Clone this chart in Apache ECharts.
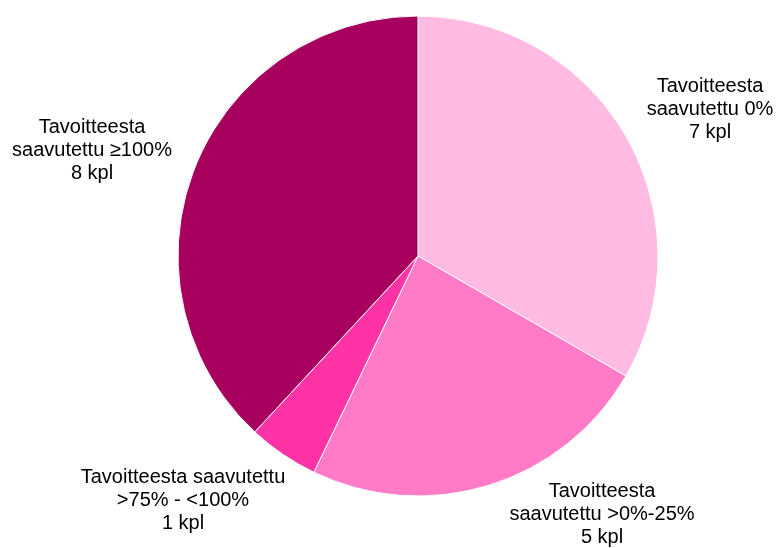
<!DOCTYPE html>
<html>
<head>
<meta charset="utf-8">
<script src="https://cdn.jsdelivr.net/npm/echarts@6/dist/echarts.min.js"></script>
<style>
  html, body { margin: 0; padding: 0; background: #fff; }
  #chart { width: 777px; height: 548px; }
</style>
</head>
<body>
<div id="chart"></div>
<script>
var names = [
  'Tavoitteesta\nsaavutettu 0%',
  'Tavoitteesta\nsaavutettu >0%-25%',
  'Tavoitteesta saavutettu\n>75% - <100%',
  'Tavoitteesta\nsaavutettu ≥100%'
];
var counts = [7, 5, 1, 8];
var colors = ['#FFBBE1', '#FF7BC7', '#FF33A5', '#A8005E'];
// label centres (x, y) like the original best-fit placement
var labelPos = [[710, 109], [602, 514], [183, 500], [92, 150]];

var chart = echarts.init(document.getElementById('chart'));
chart.setOption({
  animation: false,
  series: [{
    type: 'pie',
    center: [418, 256],
    radius: 240,
    startAngle: 90,
    clockwise: true,
    data: names.map(function(n, i) {
      return { name: n, value: counts[i], itemStyle: { color: colors[i] } };
    }),
    itemStyle: { borderColor: '#fff', borderWidth: 1 },
    label: {
      show: true,
      position: 'outside',
      formatter: '{b}\n{c} kpl',
      fontFamily: 'Liberation Sans, Arial, sans-serif',
      fontSize: 20,
      lineHeight: 23,
      color: '#000',
      align: 'center',
      overflow: 'none'
    },
    labelLine: { show: false },
    labelLayout: function(p) {
      var pos = labelPos[p.dataIndex];
      return { x: pos[0], y: pos[1], align: 'center', verticalAlign: 'middle' };
    },
    emphasis: { disabled: true }
  }]
});
</script>
</body>
</html>
